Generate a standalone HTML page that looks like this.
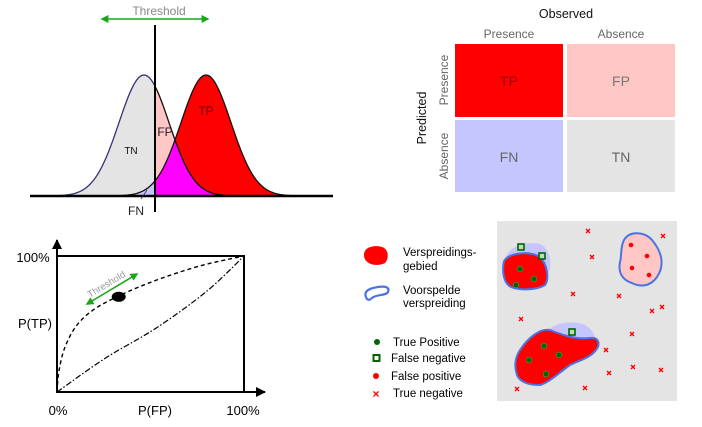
<!DOCTYPE html>
<html><head><meta charset="utf-8"><style>
html,body{margin:0;padding:0;background:#fff;}
svg{display:block;font-family:"Liberation Sans","DejaVu Sans",sans-serif;}
</style></head><body>
<svg id="s" width="702" height="427" viewBox="0 0 702 427" xmlns="http://www.w3.org/2000/svg">
<defs>
<marker id="ga" viewBox="0 0 10 10" refX="8" refY="5" markerWidth="5" markerHeight="5" orient="auto-start-reverse"><path d="M0,0 L10,5 L0,10 z" fill="#1aa81a"/></marker>
<marker id="ba" viewBox="0 0 10 10" refX="9" refY="5" markerWidth="5" markerHeight="5" orient="auto"><path d="M0,0 L10,5 L0,10 z" fill="#000"/></marker>
</defs>
<g id="dist"></g>
<text x="159" y="15" font-size="12" fill="#888" text-anchor="middle">Threshold</text>
<line x1="102" y1="19" x2="208" y2="19" stroke="#1aa81a" stroke-width="1.6" marker-start="url(#ga)" marker-end="url(#ga)"/>

<g>
<text x="566" y="18" font-size="12.5" fill="#111" text-anchor="middle">Observed</text>
<text x="509" y="38" font-size="12" fill="#666" text-anchor="middle">Presence</text>
<text x="621" y="38" font-size="12" fill="#666" text-anchor="middle">Absence</text>
<text transform="translate(426,118) rotate(-90)" font-size="12.5" fill="#111" text-anchor="middle">Predicted</text>
<text transform="translate(448,80) rotate(-90)" font-size="12" fill="#666" text-anchor="middle">Presence</text>
<text transform="translate(448,156) rotate(-90)" font-size="12" fill="#666" text-anchor="middle">Absence</text>
<rect x="455" y="44" width="108" height="73" fill="#ff0000"/>
<rect x="567" y="44" width="108" height="73" fill="#ffc6c6"/>
<rect x="455" y="120" width="108" height="72" fill="#c6c6ff"/>
<rect x="567" y="120" width="108" height="72" fill="#e4e4e4"/>
<text x="509" y="86" font-size="14" fill="#990000" text-anchor="middle">TP</text>
<text x="621" y="86" font-size="14" fill="#777" text-anchor="middle">FP</text>
<text x="509" y="162" font-size="14" fill="#666" text-anchor="middle">FN</text>
<text x="621" y="162" font-size="14" fill="#666" text-anchor="middle">TN</text>
</g>

<g id="roc">
<rect x="57" y="256" width="187" height="136" fill="none" stroke="#000" stroke-width="2"/>
<line x1="57" y1="393" x2="57" y2="240" stroke="#000" stroke-width="2" marker-end="url(#ba)"/>
<line x1="57" y1="392" x2="265" y2="392" stroke="#000" stroke-width="2" marker-end="url(#ba)"/>
<text x="33" y="262" font-size="13" text-anchor="middle">100%</text>
<text x="35" y="328" font-size="13" text-anchor="middle">P(TP)</text>
<text x="58" y="415" font-size="13" text-anchor="middle">0%</text>
<text x="155" y="415" font-size="13" text-anchor="middle">P(FP)</text>
<text x="243" y="415" font-size="13" text-anchor="middle">100%</text>
<line x1="87" y1="304" x2="137" y2="274" stroke="#1aa81a" stroke-width="1.6" marker-start="url(#ga)" marker-end="url(#ga)"/>
<text transform="translate(108,287) rotate(-31)" font-size="9.5" fill="#999" text-anchor="middle">Threshold</text>
</g>

<g>
<path d="M364,255 C364,246 376,245 382,247 C389,249 389,259 385,263 C378,267 364,265 364,255 Z" fill="#ff0000"/>
<text x="403" y="256" font-size="11.5">Verspreidings-</text>
<text x="403" y="270" font-size="11.5">gebied</text>
<path d="M366,297 C363,290 372,288 378,287 C385,286 390,287 388,292 C386,296 376,294 372,298 C369,301 367,300 366,297 Z" fill="none" stroke="#4a74e0" stroke-width="2.2"/>
<text x="403" y="294" font-size="11.5">Voorspelde</text>
<text x="403" y="307" font-size="11.5">verspreiding</text>
<circle cx="377" cy="342" r="3" fill="#006400"/>
<text x="393" y="346" font-size="11.5">True Positive</text>
<rect x="373.5" y="355" width="6" height="6" fill="#fff" stroke="#006400" stroke-width="2"/>
<text x="391" y="362" font-size="11.5">False negative</text>
<circle cx="376" cy="376" r="3" fill="#ff0000"/>
<text x="391" y="380" font-size="11.5">False positive</text>
<text x="376" y="398" font-size="12" fill="#ff0000" text-anchor="middle" font-weight="bold">×</text>
<text x="393" y="397" font-size="11.5">True negative</text>
</g>

<g id="map">
<rect x="497" y="221" width="180" height="180" fill="#e4e4e4"/>
<path d="M505,258 C510,246 525,241 540,244 C550,248 553,265 548,275 L540,262 Z" fill="#c6c6ff"/>
<path d="M504,261 C510,252 530,251 540,257 C548,265 549,280 545,285 C535,291 518,290 511,287 C503,283 502,270 504,261 Z" fill="#ff0000" stroke="#4a74e0" stroke-width="2"/>
<path d="M624,240 C630,230 645,232 652,240 C662,252 665,265 657,277 C650,287 640,287 632,283 C622,280 618,272 620,262 C622,255 620,248 624,240 Z" fill="#ffc6c6" stroke="#4a74e0" stroke-width="2"/>
<path d="M546,333 C552,322 575,320 585,325 C593,330 596,336 594,338 L560,338 Z" fill="#c6c6ff"/>
<path d="M520,350 C528,338 540,328 550,330 C560,334 575,340 590,338 C600,337 600,345 596,350 C590,358 580,360 570,365 C560,372 550,382 540,385 C528,385 520,382 517,375 C514,365 515,358 520,350 Z" fill="#ff0000" stroke="#4a74e0" stroke-width="2"/>
</g>
</svg>
<script>
// ---- distribution data ----
const distNames = ["negative", "positive"];
const distMeans = [144, 206];
const distSigmas = [25, 25];
const distPeaks = [121, 121];
const thresholdX = [155];
// ---- ROC data ----
const rocFpr = [0, 0.01, 0.04, 0.10, 0.19, 0.32, 0.47, 0.63, 0.80, 1];
const rocTpr = [0, 0.15, 0.32, 0.48, 0.60, 0.70, 0.79, 0.87, 0.94, 1];
const diagFpr = [0, 0.26, 0.53, 0.80, 1];
const diagTpr = [0, 0.25, 0.47, 0.74, 1];
const opPoint = [0.33, 0.70];
// ---- map points ----
const tpX = [520, 534, 516, 544, 559, 529, 546];
const tpY = [269, 279, 285, 346, 355, 360, 374];
const fnX = [521, 542, 572];
const fnY = [247, 256, 332];
const fpX = [631, 647, 632, 649];
const fpY = [245, 256, 268, 275];
const tnX = [588, 663, 592, 573, 619, 662, 652, 521, 632, 606, 609, 633, 661, 517, 585];
const tnY = [231, 236, 257, 294, 296, 307, 311, 319, 334, 350, 373, 367, 370, 389, 388];

const NS = "http://www.w3.org/2000/svg";
function mk(tag, attrs, parent) {
  const e = document.createElementNS(NS, tag);
  for (const k in attrs) e.setAttribute(k, attrs[k]);
  parent.appendChild(e);
  return e;
}
const base = 196;
function g(i, x) { const d = (x - distMeans[i]) / distSigmas[i]; return distPeaks[i] * Math.exp(-d * d / 2); }
function areaPath(f, x0, x1) {
  let d = "M" + x0 + "," + base;
  for (let x = x0; x <= x1; x += 1) d += " L" + x + "," + (base - f(x)).toFixed(2);
  return d + " L" + x1 + "," + base + " Z";
}
function linePath(f, x0, x1) {
  let d = "";
  for (let x = x0; x <= x1; x += 1) d += (x === x0 ? "M" : " L") + x + "," + (base - f(x)).toFixed(2);
  return d;
}
const dist = document.getElementById("dist");
const tx = thresholdX[0];
const lo = 50, hi = 300;
let e;
e = mk("path", {d: areaPath(x => g(0, x), tx, hi), fill: "#ffc6c6"}, dist);


e = mk("path", {d: areaPath(x => g(1, x), tx, hi), fill: "#ff0000"}, dist);


e = mk("path", {d: areaPath(x => Math.min(g(0, x), g(1, x)), tx, hi), fill: "#ff00ff"}, dist);


e = mk("path", {d: areaPath(x => g(0, x), lo, tx), fill: "#e4e4e4"}, dist);


e = mk("path", {d: areaPath(x => g(1, x), lo, tx), fill: "#c6c6ff"}, dist);


e = mk("path", {d: linePath(x => g(0, x), lo, tx), fill: "none", stroke: "#33337a", "stroke-width": 1.3}, dist);


e = mk("path", {d: linePath(x => g(0, x), tx, hi), fill: "none", stroke: "#111", "stroke-width": 1.3}, dist);


e = mk("path", {d: linePath(x => g(1, x), 100, hi), fill: "none", stroke: "#111", "stroke-width": 1.3}, dist);


e = mk("line", {x1: 30, y1: base, x2: 333, y2: base, stroke: "#000", "stroke-width": 2.5}, dist);


e = mk("line", {x1: tx, y1: 25, x2: tx, y2: 212, stroke: "#000", "stroke-width": 2}, dist);


e = mk("line", {x1: 141, y1: 199, x2: 147, y2: 190, stroke: "#333", "stroke-width": 0.8}, dist);


const lbls = [["TN", 131, 154, 10, "#111"], ["FP", 165, 136, 12, "#222"], ["TP", 206, 115, 12, "#600"], ["FN", 136, 215, 12, "#222"]];
for (const l of lbls) {
  e = mk("text", {x: l[1], y: l[2], "font-size": l[3], fill: l[4], "text-anchor": "middle"}, dist);
  e.textContent = l[0];
  
  
}
const roc = document.getElementById("roc");
const X0 = 57, X1 = 244, Y0 = 392, Y1 = 256;
const sx = v => X0 + v * (X1 - X0), sy = v => Y0 - v * (Y0 - Y1);
function curve(xs, ys) {
  const p = xs.map((v, i) => [sx(v), sy(ys[i])]);
  let d = "M" + p[0][0] + "," + p[0][1];
  for (let i = 0; i < p.length - 1; i++) {
    const p0 = p[Math.max(0, i - 1)], p1 = p[i], p2 = p[i + 1], p3 = p[Math.min(p.length - 1, i + 2)];
    const c1 = [p1[0] + (p2[0] - p0[0]) / 6, p1[1] + (p2[1] - p0[1]) / 6];
    const c2 = [p2[0] - (p3[0] - p1[0]) / 6, p2[1] - (p3[1] - p1[1]) / 6];
    d += " C" + c1.join(",") + " " + c2.join(",") + " " + p2.join(",");
  }
  return d;
}
e = mk("path", {d: curve(rocFpr, rocTpr), fill: "none", stroke: "#000", "stroke-width": 1.4, "stroke-dasharray": "4,3"}, roc);


e = mk("path", {d: curve(diagFpr, diagTpr), fill: "none", stroke: "#000", "stroke-width": 1.2, "stroke-dasharray": "6,2,1.5,2"}, roc);


e = mk("ellipse", {cx: sx(opPoint[0]), cy: sy(opPoint[1]), rx: 7, ry: 5, fill: "#000"}, roc);


const map = document.getElementById("map");
tpX.forEach((x, i) => {
  e = mk("circle", {cx: x, cy: tpY[i], r: 2.8, fill: "#006400", stroke: "#4a9a4a", "stroke-width": 0.6}, map);
  
  
});
fnX.forEach((x, i) => {
  e = mk("rect", {x: x - 3, y: fnY[i] - 3, width: 6, height: 6, fill: "#b8e0b8", stroke: "#006400", "stroke-width": 1.6}, map);
  
  
});
fpX.forEach((x, i) => {
  e = mk("circle", {cx: x, cy: fpY[i], r: 2.3, fill: "#ff0000"}, map);
  
  
});
tnX.forEach((x, i) => {
  const y = tnY[i];
  e = mk("path", {d: `M${x-2},${y-2} L${x+2},${y+2} M${x+2},${y-2} L${x-2},${y+2}`, stroke: "#ff0000", "stroke-width": 1.4}, map);
  
  
});
</script>
</body></html>
